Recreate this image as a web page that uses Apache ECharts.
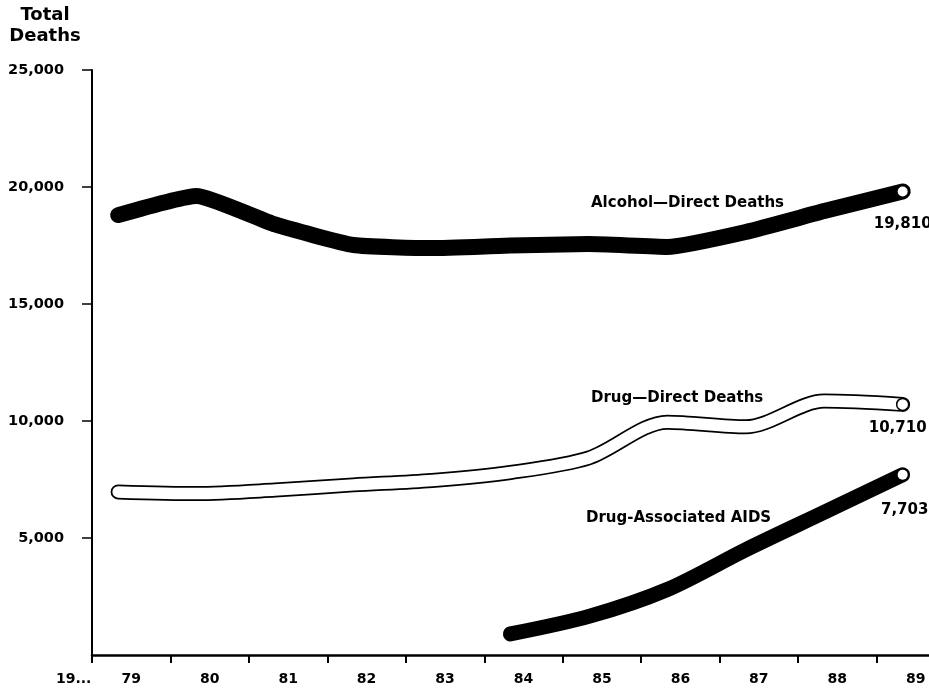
<!DOCTYPE html>
<html><head><meta charset="utf-8">
<script src="https://cdn.jsdelivr.net/npm/echarts@6/dist/echarts.min.js"></script>
<style>html,body{margin:0;padding:0;background:#fff}#c{width:929px;height:689px}</style>
</head><body><div id="c"></div>
<script>
// ---- data ----
const years = [79, 80, 81, 82, 83, 84, 85, 86, 87, 88, 89];
const tickLabels = ['79', '80', '81', '82', '83', '84', '85', '86', '87', '88', '89'];
const firstTickLabel = '19...';
const alcohol = [18800, 19620, 18400, 17520, 17390, 17500, 17560, 17440, 18080, 18970, 19810];
const drugDirect = [6970, 6900, 7050, 7270, 7460, 7800, 8420, 9950, 9750, 10850, 10710];
const aidsYears = [84, 85, 86, 87, 88, 89];
const aids = [900, 1650, 2800, 4500, 6100, 7703];
const yTickValues = [5000, 10000, 15000, 20000, 25000];
const seriesNames = ['Alcohol\u2014Direct Deaths', 'Drug\u2014Direct Deaths', 'Drug-Associated AIDS'];
const yTitle = ['Total', 'Deaths'];

const FONT = '"DejaVu Sans", sans-serif';
const fmt = v => v.toLocaleString('en-US');

function build(xs, ys, endSymbol, endLabel) {
  return ys.map((v, i) => {
    const item = { value: [xs[i], v] };
    if (i === ys.length - 1) {
      Object.assign(item, endSymbol);
      if (endLabel) item.label = endLabel(v);
    }
    return item;
  });
}
const whiteDot = { symbol: 'circle', symbolSize: 10, itemStyle: { color: '#fff', borderWidth: 0 } };
const outlinedDot = { symbol: 'circle', symbolSize: 12, itemStyle: { color: '#fff', borderColor: '#000', borderWidth: 1.5 } };
const valLabel = (off) => (v) => ({
  show: true, position: 'inside', offset: off, formatter: fmt(v),
  color: '#000', fontFamily: FONT, fontWeight: 'bold', fontSize: 15
});

const chart = echarts.init(document.getElementById('c'), null, { renderer: 'canvas' });
chart.setOption({
  animation: false,
  backgroundColor: '#fff',
  grid: { left: 92, width: 863, top: 70, bottom: 34, containLabel: false, outerBoundsMode: 'none' },
  xAxis: [
    {
      type: 'category', data: tickLabels, boundaryGap: true, position: 'bottom',
      axisLine: { lineStyle: { color: '#000', width: 2.5 } },
      axisTick: { show: true, length: 8, lineStyle: { color: '#000', width: 2 } },
      axisLabel: { color: '#000', fontFamily: FONT, fontWeight: 'bold', fontSize: 14, margin: 17 },
      splitLine: { show: false }
    },
    {
      type: 'value', min: 78.667, max: 89.667, show: false,
      splitLine: { show: false }
    }
  ],
  yAxis: {
    type: 'value', min: 0, max: 25000, interval: 5000,
    axisLine: { show: true, lineStyle: { color: '#000', width: 2 } },
    axisTick: { show: true, length: 10, customValues: yTickValues, lineStyle: { color: '#000', width: 1.5 } },
    axisLabel: {
      color: '#000', fontFamily: FONT, fontWeight: 'bold', fontSize: 14.5, margin: 28,
      customValues: yTickValues, formatter: v => fmt(v)
    },
    splitLine: { show: false }
  },
  graphic: [
    { type: 'text', x: 45, y: 5, style: { text: yTitle.join('\n'), font: 'bold 18px ' + FONT, fill: '#000', lineHeight: 21, align: 'center', textAlign: 'center' } },
    { type: 'text', left: 56, top: 672, style: { text: firstTickLabel, font: 'bold 14px ' + FONT, fill: '#000' } },
    { type: 'text', left: 591, top: 196, style: { text: seriesNames[0], font: 'bold 15px ' + FONT, fill: '#000' } },
    { type: 'text', left: 591, top: 391, style: { text: seriesNames[1], font: 'bold 15px ' + FONT, fill: '#000' } },
    { type: 'text', left: 586, top: 511, style: { text: seriesNames[2], font: 'bold 15px ' + FONT, fill: '#000' } }
  ],
  series: [
    {
      name: seriesNames[0], type: 'line', xAxisIndex: 1, smooth: 0.15, symbol: 'none', showSymbol: true,
      lineStyle: { color: '#000', width: 16, cap: 'round', join: 'round' },
      data: build(years, alcohol, whiteDot, valLabel([0, 33])), z: 3
    },
    {
      name: seriesNames[1] + ' outline', type: 'line', xAxisIndex: 1, smooth: 0.3, symbol: 'none',
      lineStyle: { color: '#000', width: 15, cap: 'round', join: 'round' },
      data: years.map((x, i) => [x, drugDirect[i]]), z: 3
    },
    {
      name: seriesNames[1], type: 'line', xAxisIndex: 1, smooth: 0.3, symbol: 'none', showSymbol: true,
      lineStyle: { color: '#fff', width: 11.5, cap: 'round', join: 'round' },
      data: build(years, drugDirect, outlinedDot, valLabel([-5, 24])), z: 4
    },
    {
      name: seriesNames[2], type: 'line', xAxisIndex: 1, smooth: 0.3, symbol: 'none', showSymbol: true,
      lineStyle: { color: '#000', width: 15, cap: 'round', join: 'round' },
      data: build(aidsYears, aids, whiteDot, valLabel([2, 35])), z: 3
    }
  ]
});
</script>
</body></html>
